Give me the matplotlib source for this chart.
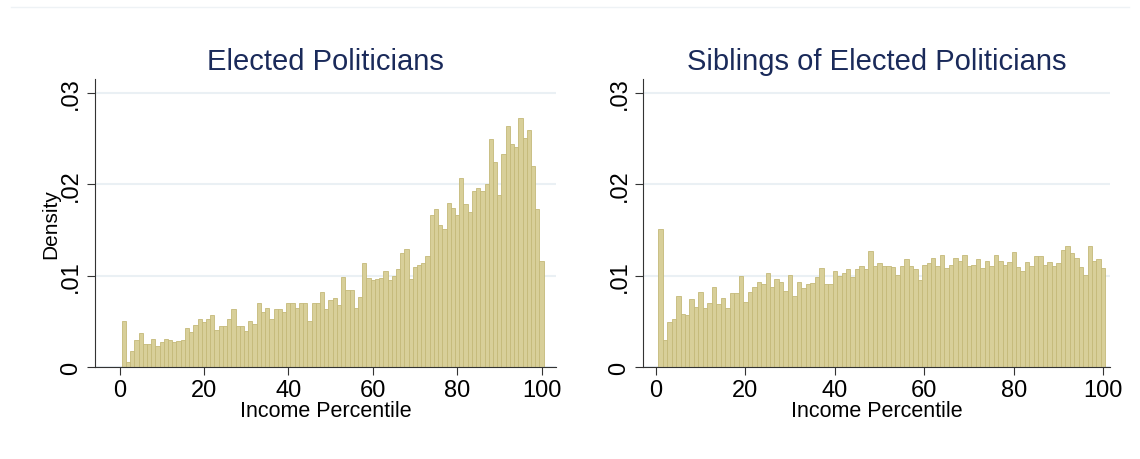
import matplotlib
matplotlib.use("Agg")
import matplotlib.pyplot as plt

plt.rcParams['font.family'] = ['Liberation Sans', 'DejaVu Sans']

percentiles = list(range(1, 101))
politicians = [0.0050,0.0005,0.0017,0.0030,0.0037,0.0025,0.0025,0.0031,0.0023,0.0027,
0.0031,0.0029,0.0027,0.0028,0.0030,0.0043,0.0038,0.0046,0.0052,0.0049,
0.0053,0.0057,0.0041,0.0045,0.0045,0.0052,0.0063,0.0045,0.0045,0.0039,
0.0050,0.0047,0.0070,0.0060,0.0064,0.0053,0.0063,0.0063,0.0060,0.0070,
0.0070,0.0064,0.0070,0.0070,0.0050,0.0070,0.0070,0.0082,0.0063,0.0073,
0.0076,0.0068,0.0098,0.0084,0.0084,0.0064,0.0077,0.0114,0.0097,0.0095,
0.0096,0.0097,0.0105,0.0095,0.0100,0.0107,0.0125,0.0129,0.0096,0.0109,
0.0112,0.0114,0.0121,0.0166,0.0173,0.0155,0.0151,0.0179,0.0174,0.0166,
0.0207,0.0178,0.0170,0.0192,0.0196,0.0192,0.0200,0.0249,0.0224,0.0188,
0.0233,0.0264,0.0244,0.0241,0.0272,0.0251,0.0259,0.0220,0.0173,0.0116]
siblings = [0.0151,0.0029,0.0049,0.0053,0.0078,0.0058,0.0057,0.0074,0.0066,0.0082,
0.0065,0.0070,0.0088,0.0069,0.0075,0.0064,0.0081,0.0081,0.0099,0.0071,
0.0082,0.0088,0.0093,0.0091,0.0103,0.0087,0.0096,0.0093,0.0083,0.0101,
0.0078,0.0093,0.0086,0.0091,0.0092,0.0098,0.0108,0.0091,0.0091,0.0105,
0.0100,0.0103,0.0107,0.0098,0.0107,0.0110,0.0107,0.0127,0.0111,0.0114,
0.0110,0.0110,0.0109,0.0101,0.0110,0.0118,0.0111,0.0107,0.0095,0.0112,
0.0114,0.0119,0.0110,0.0122,0.0108,0.0112,0.0119,0.0116,0.0123,0.0111,
0.0112,0.0118,0.0108,0.0116,0.0110,0.0123,0.0116,0.0112,0.0115,0.0126,
0.0109,0.0105,0.0115,0.0110,0.0121,0.0121,0.0112,0.0115,0.0110,0.0114,
0.0128,0.0132,0.0125,0.0119,0.0109,0.0101,0.0132,0.0116,0.0118,0.0108]

titles = ["Elected Politicians", "Siblings of Elected Politicians"]
xticks = [0, 20, 40, 60, 80, 100]
yticks = [0, 0.01, 0.02, 0.03]
yticklabels = ["0", ".01", ".02", ".03"]

fig = plt.figure(figsize=(11.4, 4.6), dpi=100)
fig.add_artist(plt.Line2D([0.01, 0.99], [0.982, 0.982], color='#eef2f5', linewidth=1))
axes = [fig.add_axes([0.083, 0.2, 0.405, 0.626]), fig.add_axes([0.564, 0.2, 0.41, 0.626])]
xlims = [(-5.9, 103.5), (-2.9, 101.6)]
for ax, data, title, xl in zip(axes, [politicians, siblings], titles, xlims):
    ax.bar(percentiles, data, width=1.0, color='#d8cf99', edgecolor='#c4b979', linewidth=0.6, zorder=2)
    ax.set_xlim(*xl)
    ax.set_ylim(0, 0.0315)
    ax.set_yticks(yticks)
    ax.set_yticklabels(yticklabels, rotation=90, va='center')
    ax.set_xticks(xticks)
    ax.grid(axis='y', color='#eaf0f4', linewidth=1.5, zorder=0)
    ax.set_axisbelow(True)
    for s in ['top', 'right']:
        ax.spines[s].set_visible(False)
    ax.spines['left'].set_color('#333333')
    ax.spines['bottom'].set_color('#333333')
    ax.tick_params(labelsize=17, color='#333333', length=6, pad=3)
    ax.set_xlabel("Income Percentile", fontsize=15.5, labelpad=-1)
    ax.set_title(title, fontsize=21, color='#1a2a5a', pad=7)
axes[0].set_ylabel("Density", fontsize=15, labelpad=0)
fig.savefig("out.png", dpi=100, facecolor='white')
